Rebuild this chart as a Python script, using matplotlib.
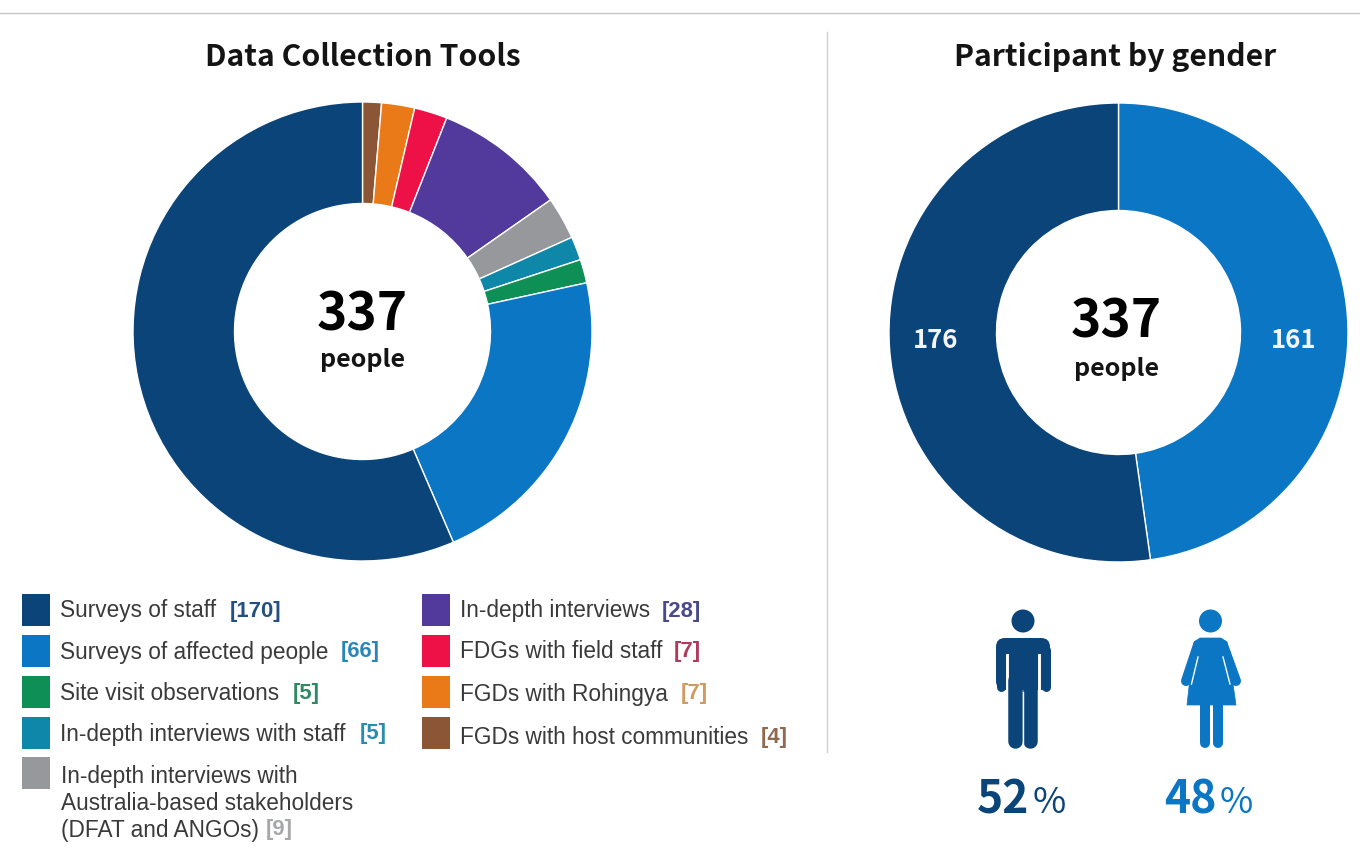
import matplotlib
matplotlib.use("agg")
import matplotlib.pyplot as plt
from matplotlib.patches import Circle, FancyBboxPatch, Polygon

W, H = 1360, 857

# Slices go clockwise from 12 o'clock
tool_values = [4, 7, 7, 28, 9, 5, 5, 66, 170]
tool_colors = ['#8a5636', '#ea7a17', '#ee1148', '#523a9c', '#96989b',
               '#0f87a8', '#0e8f55', '#0a76c4', '#0b4479']

gender_values = [161, 176]
gender_colors = ['#0a76c4', '#0b4479']
gender_pct = ['52', '48']

legend_labels = ['Surveys of staff', 'Surveys of affected people', 'Site visit observations',
                 'In-depth interviews with staff',
                 'In-depth interviews with\nAustralia-based stakeholders\n(DFAT and ANGOs)',
                 'In-depth interviews', 'FDGs with field staff', 'FGDs with Rohingya',
                 'FGDs with host communities']
legend_counts = ['[170]', '[66]', '[5]', '[5]', '[9]', '[28]', '[7]', '[7]', '[4]']
legend_swatch = ['#0b4479', '#0a76c4', '#0e8f55', '#0f87a8', '#96989b',
                 '#523a9c', '#ee1148', '#ea7a17', '#8a5636']
legend_count_col = ['#24507f', '#2a86b8', '#2f8a62', '#2a8db0', '#a5a7a9',
                    '#4a4a8a', '#b03a5e', '#d09a60', '#8f6a50']

HEAD = 'Noto Sans CJK SC'
BODY = 'Liberation Sans'


def donut(cx, cy, r, r_in, values, colors):
    # axes box in pixels, y flipped for figure coords
    ax = fig.add_axes([(cx - r) / W, 1 - (cy + r) / H, 2 * r / W, 2 * r / H])
    ax.pie(values, colors=colors, startangle=90, counterclock=False, radius=1,
           wedgeprops=dict(width=1 - r_in / r, edgecolor='white', linewidth=1.0))
    ax.set_xlim(-1, 1)
    ax.set_ylim(-1, 1)
    ax.set_aspect('equal')
    ax.axis('off')
    return ax


def limb(ax, x0, y0, x1, y1, w, color):
    ax.plot([x0, x1], [y0, y1], color=color, lw=w * 0.72, solid_capstyle='round')


fig = plt.figure(figsize=(W / 100, H / 100), dpi=100, facecolor='white')

donut(362.5, 331.5, 229.5, 128, tool_values, tool_colors)
donut(1118.5, 332.5, 229.5, 122, gender_values, gender_colors)

# overlay in pixel coordinates
ov = fig.add_axes([0, 0, 1, 1], facecolor='none')
ov.set_xlim(0, W)
ov.set_ylim(H, 0)
ov.axis('off')

ov.plot([0, W], [13, 13], color='#c4c4c4', lw=1)
ov.plot([827, 827], [32, 752], color='#cfcfcf', lw=1)

ov.text(363, 57, 'Data Collection Tools', ha='center', va='center', family=HEAD,
        weight='bold', fontsize=21.7, color='#141414')
ov.text(1115, 57, 'Participant by gender', ha='center', va='center', family=HEAD,
        weight='bold', fontsize=21.7, color='#141414')

for x, y_num, y_txt in [(362, 315, 360), (1116, 322, 369)]:
    ov.text(x, y_num, '337', ha='center', va='center', family=HEAD, weight='bold',
            fontsize=37, color='black')
    ov.text(x, y_txt, 'people', ha='center', va='center', family=HEAD, weight='bold',
            fontsize=18, color='#141414')

ov.text(935.5, 341, str(gender_values[1]), ha='center', va='center', family=HEAD,
        weight='bold', fontsize=18.5, color='#f4f4f4')
ov.text(1293.5, 341, str(gender_values[0]), ha='center', va='center', family=HEAD,
        weight='bold', fontsize=18.5, color='#f4f4f4')

# legend, swatch tops and label layout
rows = [(22, 594), (22, 635), (22, 676), (22, 717), (22, 757),
        (422, 594), (422, 635), (422, 676), (422, 717)]
text_y = [611, 652, 693, 734, 0, 611, 652, 694, 737]
count_x = [230, 341, 293, 360, 266, 662, 674, 681, 761]
count_y = [611, 652, 693, 734, 830, 611, 652, 694, 738]
for i, (x, y) in enumerate(rows):
    ov.add_patch(plt.Rectangle((x, y), 28, 32, fc=legend_swatch[i], ec='none'))
    if i == 4:
        for line, ly in zip(legend_labels[i].split('\n'), [777, 804, 830]):
            ov.text(x + 39, ly, line, va='center', family=BODY, fontsize=16.3, color='#3a3a3a')
    else:
        ov.text(x + 38, text_y[i], legend_labels[i], va='center', family=BODY,
                fontsize=16.3, color='#3a3a3a')
    ov.text(count_x[i], count_y[i], legend_counts[i], va='center', family=BODY,
            weight='bold', fontsize=15.8, color=legend_count_col[i])

# man icon
man = gender_colors[1]
ov.add_patch(Circle((1023, 621), 11.5, fc=man, ec='none'))
ov.add_patch(FancyBboxPatch((1002, 644), 42, 40, boxstyle='round,pad=6,rounding_size=9', fc=man, ec='none'))
limb(ov, 1000.5, 650, 1000.5, 687, 9, man)
limb(ov, 1045.5, 650, 1045.5, 687, 9, man)
ov.plot([1006.5, 1006.5], [655, 695], color='white', lw=2.1)
ov.plot([1038.5, 1038.5], [655, 695], color='white', lw=2.1)
limb(ov, 1015.2, 680, 1015.2, 741, 14.5, man)
limb(ov, 1029.8, 680, 1029.8, 741, 14.5, man)
ov.plot([1022.5, 1022.5], [692, 749], color='white', lw=1.0)

# woman icon
wom = gender_colors[0]
ov.add_patch(Circle((1210.5, 621), 11.5, fc=wom, ec='none'))
ov.add_patch(Polygon([(1200, 638), (1221, 638), (1227, 642), (1236, 705), (1187, 705), (1194, 642)],
                     closed=True, fc=wom, ec=wom, lw=0.5, joinstyle='round'))
limb(ov, 1198, 645, 1186, 681, 10, wom)
limb(ov, 1223, 645, 1236, 681, 10, wom)
ov.plot([1198, 1191.5], [657, 684], color='white', lw=1.0)
ov.plot([1223, 1230], [657, 684], color='white', lw=1.0)
limb(ov, 1204.7, 700, 1204.7, 743, 10, wom)
limb(ov, 1218.3, 700, 1218.3, 743, 10, wom)

# percents under the icons
for x_num, x_pct, col, num in [(1003.5, 1049.5, man, gender_pct[0]), (1190.5, 1236.5, wom, gender_pct[1])]:
    ov.text(x_num, 801, num, ha='center', va='center', family=HEAD, weight='bold',
            fontsize=32, color=col)
    ov.text(x_pct, 803, '%', ha='center', va='center', family=HEAD,
            fontsize=26, color=col)

fig.savefig('out.png', dpi=100, facecolor='white')
